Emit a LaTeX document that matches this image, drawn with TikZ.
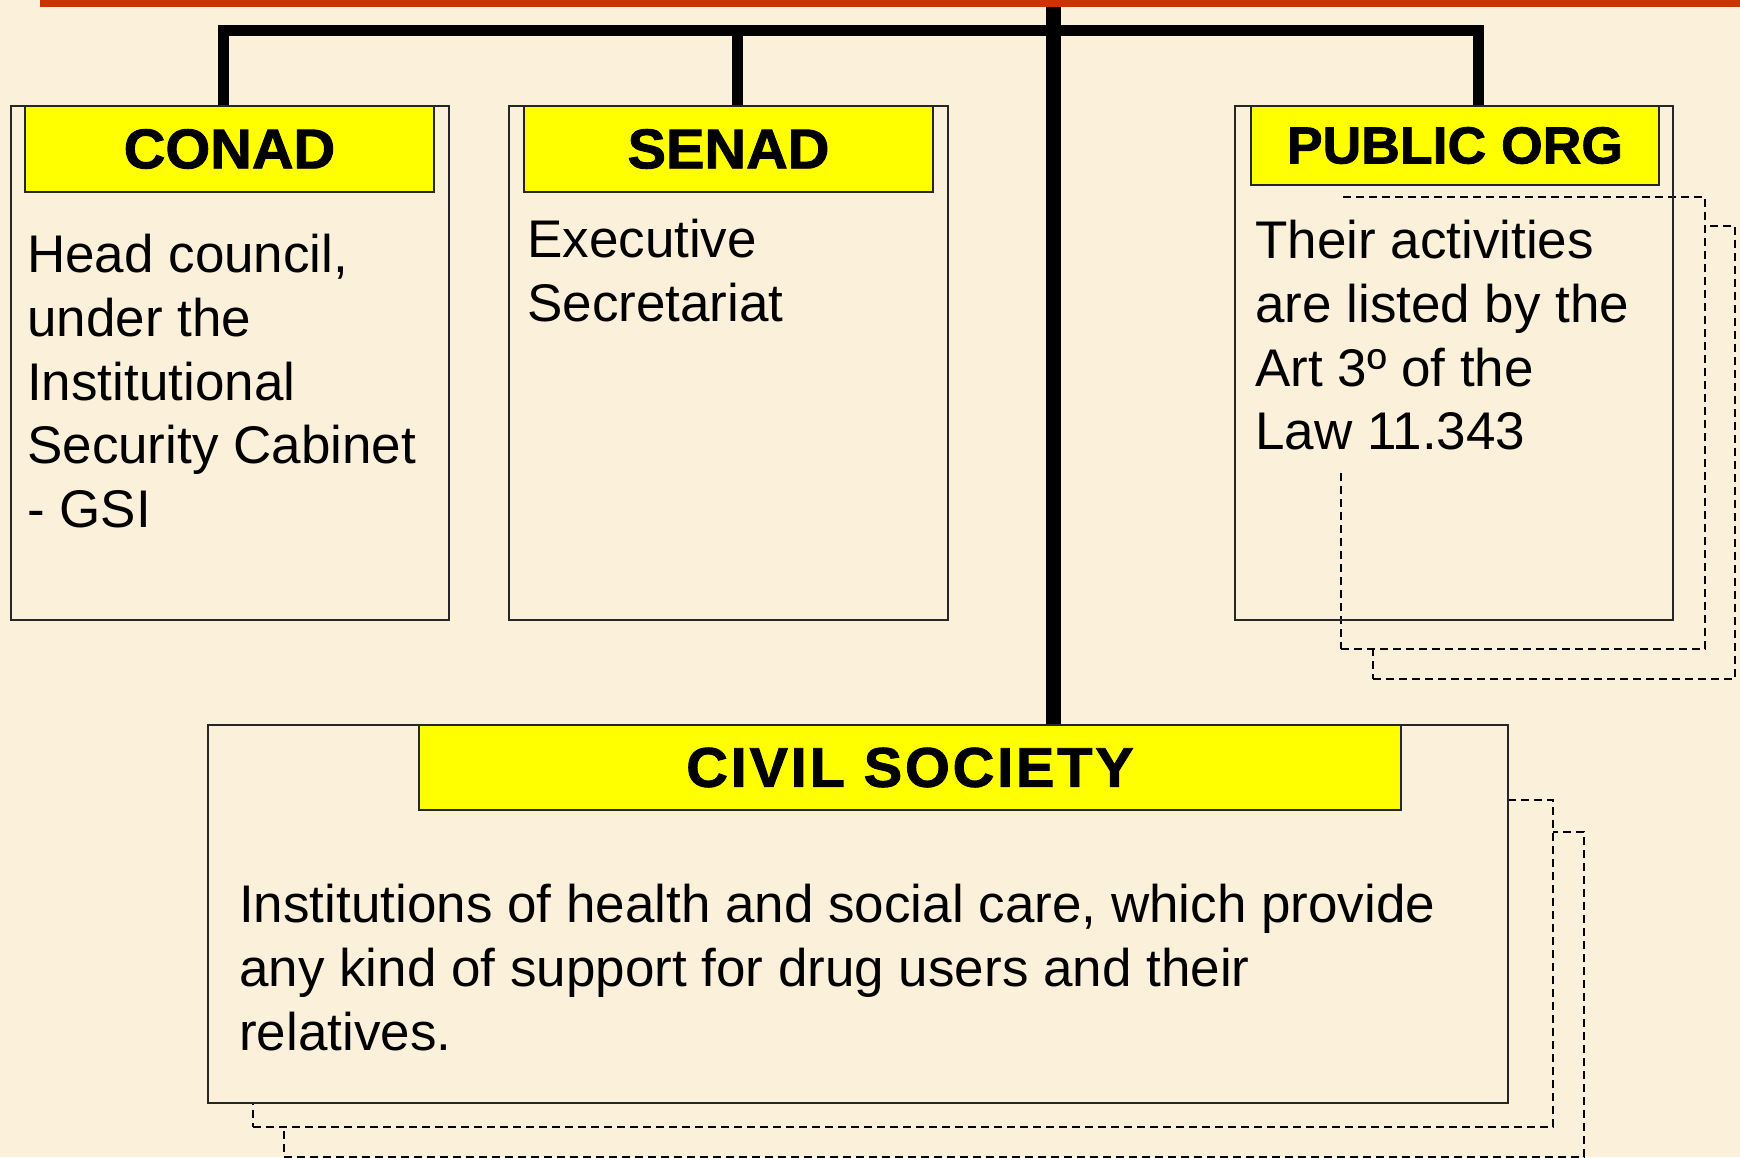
\documentclass[tikz,border=0pt]{standalone}
\usepackage{fontspec}
\setmainfont{Liberation Sans}
\newfontfamily\hdrfont{Liberation Sans Bold}[FakeBold=1.6,FakeStretch=1.03]
\newfontfamily\hdrwide{Liberation Sans Bold}[FakeBold=1.6,FakeStretch=1.03,LetterSpace=5]
\definecolor{paper}{RGB}{251,241,219}
\definecolor{barred}{RGB}{204,51,0}
\definecolor{hdryellow}{RGB}{255,255,0}
\begin{document}
\begin{tikzpicture}[x=1pt,y=-1pt,
  orgbox/.style={draw=black!85, line width=2pt, fill=paper, anchor=north west, inner sep=0},
  hdrbox/.style={draw=black!85, line width=2pt, fill=hdryellow, anchor=north west, inner sep=0, font=\fontsize{56}{60}\selectfont\hdrfont},
  bodytxt/.style={anchor=north west, inner sep=0, align=left, font=\fontsize{53}{63.7}\selectfont},
  ghost/.style={draw, line width=2.2pt, dash pattern=on 8pt off 5pt, fill=paper},
  treeline/.style={line width=11pt}]
\fill[paper] (0,0) rectangle (1740,1157);
\useasboundingbox (0,0) rectangle (1740,1157);
% CONAD
\node[orgbox, minimum width=438, minimum height=514] (conad) at (10,105){};
\node[hdrbox, minimum width=409, minimum height=86] (conadhdr) at (24,105){CONAD};
\node[bodytxt] (conadtxt) at (27,234){Head council,\\under the\\Institutional\\Security Cabinet\\- GSI};
% SENAD
\node[orgbox, minimum width=439, minimum height=514] (senad) at (508,105){};
\node[hdrbox, minimum width=409, minimum height=86] (senadhdr) at (523,105){SENAD};
\node[bodytxt] (senadtxt) at (527,219){Executive\\Secretariat};
% PUBLIC ORG
\node[ghost, anchor=north west, minimum width=362, minimum height=453] (pubg2) at (1372,225){};
\node[ghost, anchor=north west, minimum width=364, minimum height=452] (pubg1) at (1340,196){};
\node[orgbox, fill=none, minimum width=438, minimum height=514] (pub) at (1234,105){};
\node[bodytxt, fill=paper, inner xsep=4pt, inner ysep=20pt] (pubtxt) at (1251,200){Their activities\\are listed by the\\Art 3º of the\\Law 11.343};
\node[hdrbox, minimum width=408, minimum height=79, font=\fontsize{52}{56}\selectfont\hdrfont] (pubhdr) at (1250,105){PUBLIC ORG};
% CIVIL SOCIETY
\node[ghost, anchor=north west, minimum width=1300, minimum height=325] (civg2) at (283,831){};
\node[ghost, anchor=north west, minimum width=1300, minimum height=327] (civg1) at (252,799){};
\node[orgbox, minimum width=1300, minimum height=378] (civil) at (207,724){};
\node[hdrbox, minimum width=982, minimum height=85, font=\fontsize{56}{60}\selectfont\hdrwide] (civilhdr) at (418,724){CIVIL SOCIETY};
\node[bodytxt] (civiltxt) at (239,884){Institutions of health and social care, which provide\\any kind of support for drug users and their\\relatives.};
% tree
\coordinate (top) at (1053.5,4);
\coordinate (hub) at (1053.5,30);
\coordinate (conadtop) at ([xshift=-6.5pt]conadhdr.north);
\coordinate (senadtop) at ([xshift=8.5pt]senadhdr.north);
\coordinate (pubtop) at ([xshift=23pt]pubhdr.north);
\draw[treeline] (conadtop) |- (hub) -| (pubtop);
\draw[treeline] (senadtop) -- (senadtop |- hub);
\draw[line width=15pt] (top) -- (top |- civil.north);
\fill[barred] (40,0) rectangle (1740,7);
\end{tikzpicture}
\end{document}
